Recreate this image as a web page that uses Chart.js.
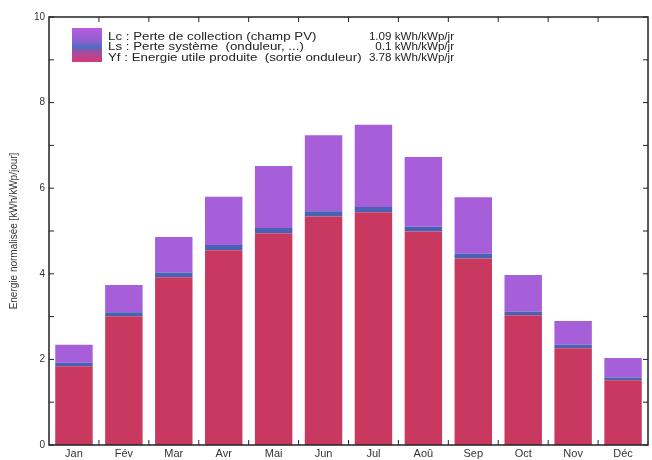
<!DOCTYPE html>
<html>
<head>
<meta charset="utf-8">
<script src="https://cdn.jsdelivr.net/npm/chart.js@4"></script>
<style>
  html, body { margin: 0; padding: 0; background: #fff; }
</style>
</head>
<body>
<canvas id="energy_chart" width="652" height="460"></canvas>
<script>
const months = ["Jan", "Fév", "Mar", "Avr", "Mai", "Jun", "Jul", "Aoû", "Sep", "Oct", "Nov", "Déc"];
const yfValues = [1.84, 3.01, 3.92, 4.55, 4.95, 5.34, 5.44, 4.99, 4.36, 3.03, 2.26, 1.51];
const lsValues = [0.08, 0.09, 0.11, 0.12, 0.12, 0.12, 0.12, 0.11, 0.11, 0.09, 0.08, 0.07];
const lcValues = [0.42, 0.64, 0.83, 1.13, 1.45, 1.78, 1.92, 1.63, 1.32, 0.85, 0.56, 0.45];
const legendNames = [
  "Lc : Perte de collection (champ PV)",
  "Ls : Perte système  (onduleur, ...)",
  "Yf : Energie utile produite  (sortie onduleur)",
];
const legendValues = ["1.09 kWh/kWp/jr", "0.1 kWh/kWp/jr", "3.78 kWh/kWp/jr"];

const colYf = "#c8385f";
const colLs = "#4a62b4";
const colLc = "#a65fd8";
const font = "'Liberation Sans', Arial, sans-serif";

// frame + inward tick marks, like the original plot
const frameTicks = {
  id: "frameTicks",
  afterDraw(chart) {
    const { ctx, chartArea: a, scales: { x, y } } = chart;
    ctx.save();
    ctx.strokeStyle = "#222";
    ctx.lineWidth = 1.5;
    ctx.strokeRect(a.left, a.top, a.right - a.left, a.bottom - a.top);
    ctx.lineWidth = 1;
    ctx.beginPath();
    y.ticks.forEach((t) => {
      const py = y.getPixelForValue(t.value);
      ctx.moveTo(a.left, py); ctx.lineTo(a.left + 5, py);
      ctx.moveTo(a.right, py); ctx.lineTo(a.right - 5, py);
    });
    for (let i = 0; i < months.length - 1; i++) {
      const px = (x.getPixelForValue(i) + x.getPixelForValue(i + 1)) / 2;
      ctx.moveTo(px, a.bottom); ctx.lineTo(px, a.bottom - 5);
      ctx.moveTo(px, a.top); ctx.lineTo(px, a.top + 5);
    }
    ctx.stroke();
    ctx.restore();
  },
};

// legend box drawn inside the plot, two columns, text stretched like the scan
function stretchedText(ctx, text, x, y, sx, align) {
  ctx.setTransform(sx, 0, 0, 1, 0, 0);
  ctx.textAlign = align;
  ctx.fillText(text, x / sx, y);
}

const boxLegend = {
  id: "boxLegend",
  afterDraw(chart) {
    const { ctx, chartArea: a } = chart;
    const sx = a.left + 23, sy = a.top + 11;
    ctx.save();
    const g = ctx.createLinearGradient(0, sy, 0, sy + 34);
    g.addColorStop(0, "#b85ee0");
    g.addColorStop(0.4, "#8c5fd0");
    g.addColorStop(0.55, "#4f6cc4");
    g.addColorStop(0.75, "#b0489a");
    g.addColorStop(1, "#d23a78");
    ctx.fillStyle = g;
    ctx.fillRect(sx, sy, 30, 34);
    ctx.fillStyle = "#222";
    ctx.font = "10px " + font;
    ctx.textBaseline = "middle";
    legendNames.forEach((name, i) => {
      const ly = sy + 9 + i * 10.5;
      stretchedText(ctx, name, sx + 36, ly, 1.33, "left");
      stretchedText(ctx, legendValues[i], a.left + 405, ly, 1.16, "right");
    });
    ctx.restore();
  },
};

const ctx = document.getElementById("energy_chart");

const chart = new Chart(ctx, {
  type: "bar",
  data: {
    labels: months,
    datasets: [
      { label: "Yf", data: yfValues, backgroundColor: colYf, borderWidth: 0 },
      { label: "Ls", data: lsValues, backgroundColor: colLs, borderWidth: 0 },
      { label: "Lc", data: lcValues, backgroundColor: colLc, borderWidth: 0 },
    ],
  },
  options: {
    responsive: false,
    animation: false,
    layout: { padding: { top: 17, right: 4, left: 0, bottom: 0 } },
    datasets: { bar: { barPercentage: 0.75, categoryPercentage: 1 } },
    plugins: { legend: { display: false }, tooltip: { enabled: false } },
    scales: {
      x: {
        stacked: true,
        grid: { display: false, drawTicks: false },
        border: { display: false },
        ticks: { color: "#333", font: { family: font, size: 11 }, padding: 2, maxRotation: 0 },
        afterFit: (s) => { s.height = 15; },
      },
      y: {
        stacked: true,
        min: 0,
        max: 10,
        grid: { display: false, drawTicks: false },
        border: { display: false },
        ticks: {
          stepSize: 1,
          autoSkip: false,
          padding: 4,
          color: "#333",
          font: { family: font, size: 10 },
          callback: (v) => (v % 2 === 0 ? v : ""),
        },
        title: {
          display: true,
          text: "Energie normalisée [kWh/kWp/jour]",
          color: "#333",
          font: { family: font, size: 10 },
          padding: { top: 8, bottom: 0 },
        },
        afterFit: (s) => { s.width = 49; },
      },
    },
  },
  plugins: [frameTicks, boxLegend],
});
</script>
</body>
</html>
